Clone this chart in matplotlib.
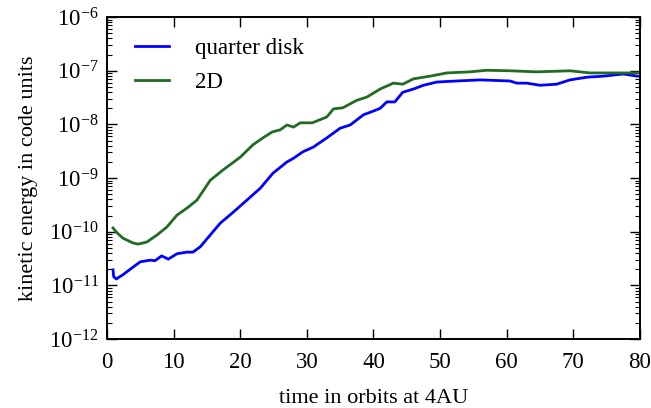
import numpy as np
import matplotlib
matplotlib.use("Agg")
import matplotlib.pyplot as plt
from matplotlib.ticker import LogLocator, NullFormatter

# time in orbits, log10 of kinetic energy
t_quarter = [0.9, 1.0, 1.4, 2.4, 3.9, 5.0, 6.5, 7.2, 8.2, 9.2, 10.5, 12.0, 12.9, 14.0,
             15.5, 17.0, 19.0, 21.0, 23.0, 24.9, 27.0, 28.0, 29.4, 31.0, 33.0, 35.0,
             36.5, 38.5, 40.0, 41.0, 42.0, 43.2, 44.4, 46.0, 47.5, 49.5, 52.5, 56.0,
             60.5, 61.5, 63.0, 65.0, 67.5, 69.5, 72.0, 74.5, 77.5, 79.6]
log_quarter = [-10.71, -10.84, -10.88, -10.80, -10.66, -10.56, -10.53, -10.54, -10.45,
               -10.51, -10.41, -10.38, -10.38, -10.28, -10.06, -9.84, -9.63, -9.41,
               -9.19, -8.91, -8.70, -8.63, -8.51, -8.42, -8.25, -8.07, -8.01, -7.82,
               -7.75, -7.70, -7.58, -7.58, -7.40, -7.34, -7.27, -7.21, -7.19, -7.17,
               -7.19, -7.23, -7.23, -7.27, -7.25, -7.17, -7.12, -7.10, -7.06, -7.10]

t_2d = [0.9, 1.5, 2.4, 3.9, 4.7, 6.0, 7.5, 9.0, 10.5, 12.0, 13.5, 15.5, 17.4, 20.0,
        21.9, 23.4, 24.8, 26.0, 27.0, 28.0, 29.0, 30.8, 33.0, 34.0, 35.4, 37.5, 39.0,
        41.0, 43.0, 44.4, 46.0, 48.5, 51.0, 54.5, 57.0, 60.5, 64.5, 69.5, 72.5, 75.5,
        79.6]
log_2d = [-9.93, -10.02, -10.12, -10.21, -10.23, -10.19, -10.06, -9.91, -9.69, -9.56,
          -9.41, -9.04, -8.85, -8.61, -8.38, -8.25, -8.14, -8.10, -8.01, -8.05, -7.97,
          -7.97, -7.86, -7.71, -7.69, -7.55, -7.49, -7.34, -7.23, -7.25, -7.15, -7.10,
          -7.04, -7.02, -6.99, -7.00, -7.02, -7.00, -7.04, -7.04, -7.04]

plt.rcParams['font.family'] = ['Liberation Serif', 'DejaVu Serif']
plt.rcParams['mathtext.fontset'] = 'stix'

fig = plt.figure(figsize=(6.51, 4.08), dpi=100)
ax = fig.add_axes([0.1644, 0.169, 0.8186, 0.789])

ax.plot(t_quarter, 10 ** np.array(log_quarter), color='#0000ff', lw=2.0, label='quarter disk')
ax.plot(t_2d, 10 ** np.array(log_2d), color='#226b22', lw=2.0, label='2D')

ax.set_yscale('log')
ax.set_xlim(0, 80)
ax.set_ylim(1e-12, 1e-6)
ax.set_xticks(np.arange(0, 81, 10))
ax.yaxis.set_major_locator(LogLocator(base=10, numticks=10))
ax.yaxis.set_minor_locator(LogLocator(base=10, subs=np.arange(2, 10), numticks=20))
ax.yaxis.set_minor_formatter(NullFormatter())

ax.tick_params(which='major', direction='in', top=True, right=True, length=7, width=1,
               labelsize=16.5, pad=6)
ax.tick_params(axis='x', which='major', pad=9)
ax.tick_params(which='minor', direction='in', top=True, right=True, length=3.5, width=0.8)
for s in ax.spines.values():
    s.set_linewidth(1.4)

ax.set_xlabel('time in orbits at 4AU', fontsize=16, labelpad=12)
ax.set_ylabel('kinetic energy in code units', fontsize=16, labelpad=8)

ax.legend(loc='upper left', bbox_to_anchor=(0.052, 0.935), frameon=False, fontsize=16.5,
          handlelength=1.5, handletextpad=1.15, borderaxespad=0, borderpad=0,
          labelspacing=0.55)

fig.savefig('out.png', dpi=100)
